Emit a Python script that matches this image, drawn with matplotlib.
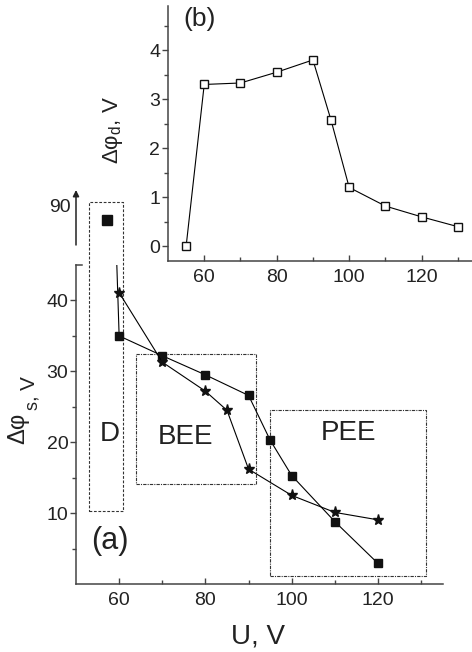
import matplotlib
matplotlib.use('Agg')
import matplotlib.pyplot as plt
from matplotlib.patches import Rectangle
from matplotlib.ticker import MultipleLocator, FixedLocator

plt.rcParams['font.family'] = ['Liberation Sans', 'DejaVu Sans']

# ---- data: panel (a) ----
u_sq = [57.2, 60, 70, 80, 90, 95, 100, 110, 120]
phi_sq = [87, 35.0, 32.2, 29.5, 26.6, 20.3, 15.3, 8.8, 2.9]
u_star = [60, 70, 80, 85, 90, 100, 110, 120]
phi_star = [41.1, 31.3, 27.2, 24.5, 16.2, 12.5, 10.1, 9.05]
# ---- data: panel (b) ----
u_b = [55, 60, 70, 80, 90, 95, 100, 110, 120, 130]
phi_d = [0, 3.3, 3.33, 3.55, 3.8, 2.57, 1.2, 0.82, 0.6, 0.4]
# region labels
region_names = ['D', 'BEE', 'PEE']

W, H = 472, 652
fig = plt.figure(figsize=(W / 100, H / 100), dpi=100)

def fr(l, b, r, t):
    return [l / W, 1 - b / H, (r - l) / W, (b - t) / H]

def fp(x, y):
    return x / W, 1 - y / H

ink = '#222222'
spine_c = '#444444'

# ---------------- main (lower) axes ----------------
ax = fig.add_axes(fr(76, 584, 442.7, 265))
ax.set_xlim(50, 135)
ax.set_ylim(0, 45)
ax.plot(u_sq, phi_sq, color='k', lw=0.8, marker='s', ms=6.2, mfc='#111111', mec='#111111')
ax.plot(u_star, phi_star, color='k', lw=0.8, marker='*', ms=8, mfc='#111111', mec='#111111')

for s in ['top', 'right']:
    ax.spines[s].set_visible(False)
for s in ['left', 'bottom']:
    ax.spines[s].set_linewidth(1.1)
    ax.spines[s].set_color(spine_c)
ax.xaxis.set_major_locator(FixedLocator([60, 80, 100, 120]))
ax.xaxis.set_minor_locator(FixedLocator([70, 90, 110, 130]))
ax.yaxis.set_major_locator(FixedLocator([10, 20, 30, 40]))
ax.yaxis.set_minor_locator(FixedLocator([5, 15, 25, 35]))
ax.tick_params(axis='x', which='both', direction='in', colors=spine_c, labelcolor=ink, labelsize=14, pad=6)
ax.tick_params(axis='y', which='both', direction='out', colors=spine_c, labelcolor=ink, labelsize=14, pad=1.5)
ax.tick_params(which='major', length=4, width=1)
ax.tick_params(which='minor', length=3, width=1)
# small cap at the top of the broken axis
ax.plot([0, 0.015], [1, 1], transform=ax.transAxes, color=spine_c, lw=1.1, clip_on=False)

# region boxes
ax.add_patch(Rectangle((53.0, 10.3), 60.8 - 53.0, 53.9 - 10.3, fill=False, ls=(0, (2.5, 1.5)),
                       lw=0.8, ec='#333333', clip_on=False))
ax.add_patch(Rectangle((63.8, 14.1), 91.7 - 63.8, 32.5 - 14.1, fill=False, ls=(0, (3, 1, 1, 1)),
                       lw=0.8, ec='#333333'))
ax.add_patch(Rectangle((95.05, 1.07), 131.2 - 95.05, 24.55 - 1.07, fill=False, ls=(0, (3, 1, 1, 1)),
                       lw=0.8, ec='#333333'))
ax.text(57.8, 21.1, region_names[0], fontsize=20, color=ink, ha='center', va='center')
ax.text(75.4, 20.8, region_names[1], fontsize=20, color=ink, ha='center', va='center')
ax.text(113.2, 21.3, region_names[2], fontsize=20, color=ink, ha='center', va='center')
ax.text(57.8, 6.0, '(a)', fontsize=22, color=ink, ha='center', va='center')

ax.set_xlabel('U, V', fontsize=20, color=ink)
ax.xaxis.set_label_coords(0.496, -0.165)
ax.xaxis.label.set_verticalalignment('center')

# y label of (a), built in pieces (the tail ", V" sits on a lowered baseline)
kw = dict(rotation=90, rotation_mode='anchor', ha='left', va='baseline', color=ink)
fig.text(*fp(24, 444), 'Δφ', fontsize=17, **kw)
fig.text(*fp(37, 410), 's', fontsize=13, **kw)
fig.text(*fp(35, 400), ',', fontsize=15, **kw)
fig.text(*fp(35, 390), 'V', fontsize=15, **kw)

# ---------------- upper (broken) segment ----------------
axu = fig.add_axes(fr(76, 245, 442.7, 190))
axu.set_xlim(50, 135)
axu.set_ylim(82, 93)
axu.plot(u_sq[:1], phi_sq[:1], ls='none', marker='s', ms=6.5, mfc='#111111', mec='#111111')
for s in axu.spines.values():
    s.set_visible(False)
axu.set_xticks([])
axu.set_yticks([90])
axu.tick_params(axis='y', length=0, labelsize=14, labelcolor=ink, pad=3.5)
axu.patch.set_alpha(0)
axu.annotate('', xy=(0, 1), xytext=(0, 0), xycoords='axes fraction',
             arrowprops=dict(arrowstyle='-|>', lw=1.1, color='#222222', mutation_scale=9,
                             shrinkA=0, shrinkB=0))

# ---------------- inset (b) ----------------
axb = fig.add_axes(fr(168, 261, 476, 6))
axb.set_xlim(50, 135)
axb.set_ylim(-0.3, 4.9)
axb.plot(u_b, phi_d, color='k', lw=0.8, marker='s', ms=5.5, mfc='white', mec='#111111', mew=1)
for s in ['top', 'right']:
    axb.spines[s].set_visible(False)
for s in ['left', 'bottom']:
    axb.spines[s].set_linewidth(1.1)
    axb.spines[s].set_color(spine_c)
axb.xaxis.set_major_locator(FixedLocator([60, 80, 100, 120]))
axb.xaxis.set_minor_locator(FixedLocator([70, 90, 110, 130]))
axb.yaxis.set_major_locator(MultipleLocator(1))
axb.yaxis.set_minor_locator(MultipleLocator(0.5))
axb.tick_params(axis='x', which='both', direction='in', colors=spine_c, labelcolor=ink, labelsize=14, pad=6)
axb.tick_params(axis='y', which='both', direction='out', colors=spine_c, labelcolor=ink, labelsize=14, pad=1.5)
axb.tick_params(which='major', length=4, width=1)
axb.tick_params(which='minor', length=3, width=1)
axb.text(58.6, 4.63, '(b)', fontsize=19, color=ink, ha='center', va='center')
axb.set_ylabel('Δφ$_\\mathregular{d}$, V', fontsize=16, color=ink)
axb.yaxis.set_label_coords(-0.1786, 0.514)
axb.yaxis.label.set_verticalalignment('center')

fig.savefig('out.png', dpi=100)
